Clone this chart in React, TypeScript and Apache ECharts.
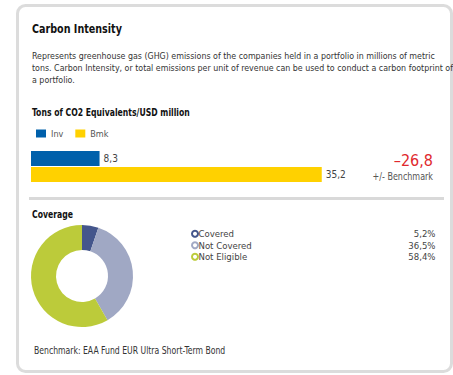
import React, { useEffect, useRef } from "react";
import * as echarts from "echarts";

const barSeriesNames = ["Inv", "Bmk"];
const barValues = [8.3, 35.2];
const barColors = ["#0060ab", "#ffd100"];
const difference = -26.8;

const coverageNames = ["Covered", "Not Covered", "Not Eligible"];
const coverageValues = [5.2, 36.5, 58.4];
const coverageColors = ["#44568c", "#a0a8c4", "#bccb3a"];

const FONT = "'DejaVu Sans Condensed', 'Liberation Sans Narrow', sans-serif";
const fmt = (v: number) => v.toFixed(1).replace(".", ",");

export default function App() {
  const ref = useRef<HTMLDivElement>(null);
  useEffect(() => {
    if (!ref.current) return;
    const chart = echarts.init(ref.current, undefined, { renderer: "svg" });
    const valMap: Record<string, number> = {};
    coverageNames.forEach((n, i) => (valMap[n] = coverageValues[i]));
    const txt = (
      text: string,
      x: number,
      y: number,
      font: string,
      fill: string,
      scaleX: number,
      align: string = "left"
    ) => ({
      type: "text",
      x,
      y,
      scaleX,
      silent: true,
      style: { text, font, fill, textAlign: align, textVerticalAlign: "middle" },
    });
    chart.setOption({
      animation: false,
      backgroundColor: "#fff",
      textStyle: { fontFamily: FONT },
      legend: [
        {
          data: barSeriesNames,
          left: 31,
          top: 124,
          icon: "rect",
          itemWidth: 10,
          itemHeight: 8,
          itemGap: 12,
          textStyle: { fontSize: 9, color: "#555", fontFamily: FONT },
        },
        {
          data: coverageNames,
          orient: "vertical",
          left: 186,
          top: 223,
          icon: "emptyCircle",
          itemWidth: 7,
          itemHeight: 6,
          itemGap: 0,
          itemStyle: { borderWidth: 1.6 },
          formatter: (n: string) => `{n|${n}}{v|${fmt(valMap[n])}%}`,
          textStyle: {
            fontFamily: FONT,
            fontSize: 9.5,
            lineHeight: 11.5,
            color: "#444",
            padding: [0, 0, 0, -5],
            rich: {
              n: { fontFamily: FONT, fontSize: 9.5, color: "#444", width: 193, lineHeight: 11.5 },
              v: { fontFamily: FONT, fontSize: 9.5, color: "#444", width: 44, align: "right", lineHeight: 11.5 },
            },
          },
        },
      ],
      grid: { left: 31, top: 151, width: 413, height: 31 },
      xAxis: { type: "value", min: 0, max: 50, show: false },
      yAxis: { type: "category", data: [""], show: false, inverse: true },
      series: [
        ...barSeriesNames.map((name, i) => ({
          type: "bar",
          name,
          data: [barValues[i]],
          barWidth: 15,
          barGap: "7%",
          itemStyle: { color: barColors[i] },
          label: {
            show: true,
            position: "right",
            distance: 4,
            formatter: (p: any) => fmt(p.value),
            fontFamily: FONT,
            fontSize: 10,
            color: "#444",
          },
        })),
        {
          type: "pie",
          name: "Coverage",
          center: [82, 276],
          radius: [26, 51],
          startAngle: 90,
          clockwise: true,
          label: { show: false },
          labelLine: { show: false },
          emphasis: { disabled: true },
          data: coverageNames.map((n, i) => ({
            name: n,
            value: coverageValues[i],
            itemStyle: { color: coverageColors[i] },
          })),
        },
      ],
      graphic: [
        {
          type: "rect",
          shape: { x: 17.5, y: 5.5, width: 434, height: 366, r: 8 },
          style: { fill: "none", stroke: "#dcdcdc", lineWidth: 3 },
          silent: true,
        },
        txt("Carbon Intensity", 32, 29, `bold 13px ${FONT}`, "#111", 0.82),
        {
          type: "text",
          x: 32,
          y: 50,
          silent: true,
          style: {
            text:
              "Represents greenhouse gas (GHG) emissions of the companies held in a portfolio in millions of metric\ntons. Carbon Intensity, or total emissions per unit of revenue can be used to conduct a carbon footprint of\na portfolio.",
            font: `8.8px ${FONT}`,
            fill: "#333",
            lineHeight: 12,
          },
        },
        txt("Tons of CO2 Equivalents/USD million", 32, 112, `bold 11px ${FONT}`, "#111", 0.78),
        txt(
          (difference < 0 ? "\u2013" : "+") + fmt(Math.abs(difference)),
          433,
          160,
          `16px ${FONT}`,
          "#e0282d",
          1,
          "right"
        ),
        txt("+/- Benchmark", 433, 176, `11px ${FONT}`, "#555", 0.81, "right"),
        {
          type: "line",
          silent: true,
          shape: { x1: 29, y1: 198.5, x2: 444, y2: 198.5 },
          style: { stroke: "#d9d9d9", lineWidth: 3 },
        },
        txt("Coverage", 32, 214, `bold 11px ${FONT}`, "#111", 0.78),
        txt("Benchmark: EAA Fund EUR Ultra Short-Term Bond", 34, 350, `11px ${FONT}`, "#333", 0.78),
      ],
    });
    return () => chart.dispose();
  }, []);
  return (
    <div
      ref={ref}
      style={{ position: "fixed", left: 0, top: 0, width: 453, height: 375 }}
    />
  );
}
